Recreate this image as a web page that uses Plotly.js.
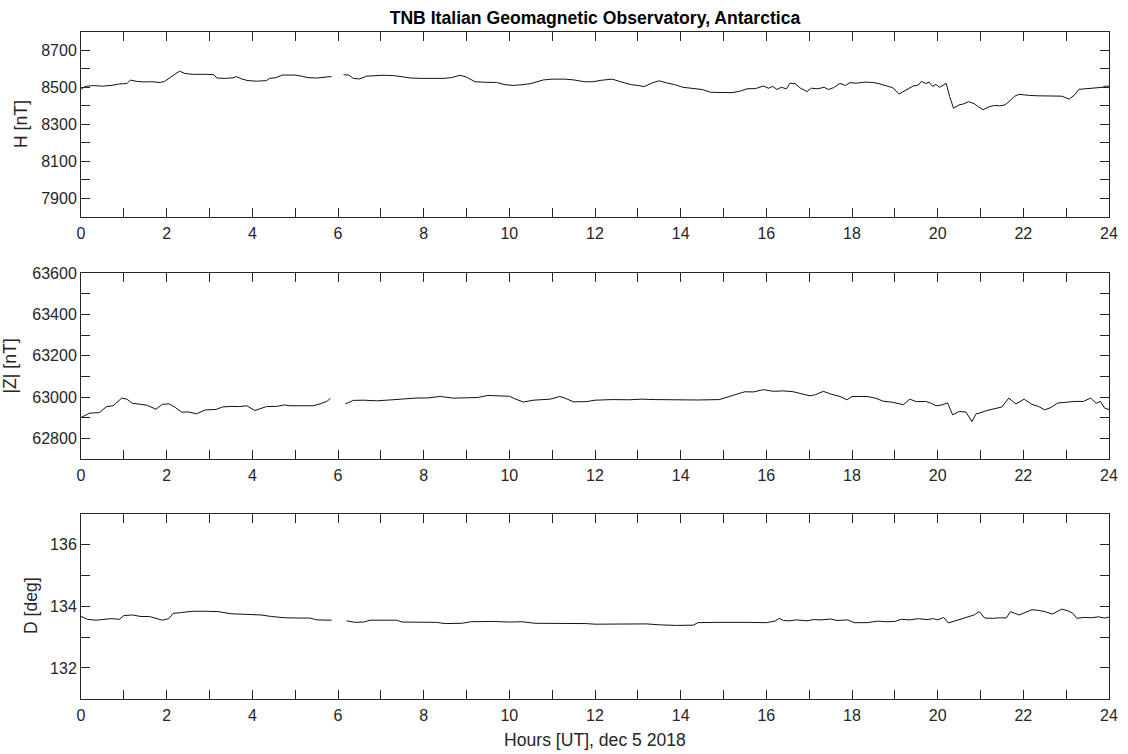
<!DOCTYPE html>
<html>
<head>
<meta charset="utf-8">
<script src="https://cdn.plot.ly/plotly-3.0.1.min.js"></script>
<style>html,body{margin:0;padding:0;background:#fff;}#chart{width:1128px;height:754px;}</style>
</head>
<body>
<div id="chart"></div>
<script>
// ---- Data ----
const titleText = "TNB Italian Geomagnetic Observatory, Antarctica";
const xLabel = "Hours [UT], dec 5 2018";
const hLabel = "H [nT]";
const zLabel = "|Z| [nT]";
const dLabel = "D [deg]";

const hourTicks = [0,1,2,3,4,5,6,7,8,9,10,11,12,13,14,15,16,17,18,19,20,21,22,23,24];
const hourTickText = ["0","","2","","4","","6","","8","","10","","12","","14","","16","","18","","20","","22","","24"];

const hTicks = [7900,8000,8100,8200,8300,8400,8500,8600,8700];
const hTickText = ["7900","","8100","","8300","","8500","","8700"];
const zTicks = [62800,62900,63000,63100,63200,63300,63400,63500,63600];
const zTickText = ["62800","","63000","","63200","","63400","","63600"];
const dTicks = [132,133,134,135,136];
const dTickText = ["132","","134","","136"];

const H_hours = [0.00,0.10,0.30,0.50,0.70,0.90,1.07,1.15,1.30,1.45,1.65,1.85,1.95,2.05,2.20,2.30,2.42,2.60,2.90,3.10,3.17,3.35,3.55,3.63,3.75,3.90,4.10,4.33,4.40,4.55,4.70,4.85,5.00,5.15,5.30,5.50,5.65,5.80,5.85,5.86,6.13,6.25,6.36,6.50,6.67,6.85,7.05,7.30,7.50,7.70,7.95,8.20,8.45,8.65,8.85,9.00,9.20,9.45,9.70,9.90,10.10,10.30,10.50,10.80,11.00,11.30,11.50,11.75,11.95,12.15,12.40,12.60,12.85,13.00,13.15,13.35,13.50,13.65,13.85,14.05,14.30,14.50,14.70,14.95,15.20,15.40,15.55,15.75,15.93,16.05,16.15,16.25,16.35,16.47,16.55,16.67,16.80,16.95,17.05,17.20,17.35,17.45,17.57,17.72,17.85,17.95,18.10,18.30,18.50,18.65,18.80,18.95,19.10,19.25,19.43,19.55,19.62,19.72,19.80,19.88,19.96,20.04,20.12,20.20,20.28,20.37,20.50,20.60,20.72,20.85,20.95,21.06,21.20,21.33,21.45,21.57,21.70,21.80,21.90,22.00,22.15,22.35,22.60,22.90,23.07,23.20,23.30,23.45,23.60,23.75,23.85,23.94,24.00];
const H_nT = [8489,8505,8509,8506,8510,8518,8520,8539,8532,8529,8530,8526,8532,8548,8575,8587,8575,8570,8570,8568,8550,8548,8551,8558,8545,8536,8533,8536,8548,8552,8566,8565,8566,8560,8552,8550,8553,8555,8558,null,8568,8566,8548,8545,8560,8562,8565,8563,8558,8550,8548,8546,8548,8552,8565,8555,8530,8527,8526,8514,8510,8514,8520,8540,8544,8544,8540,8530,8530,8538,8544,8530,8514,8510,8504,8525,8535,8525,8515,8500,8495,8488,8473,8470,8471,8480,8492,8493,8507,8495,8505,8488,8500,8492,8522,8520,8495,8477,8495,8492,8500,8488,8498,8521,8510,8525,8522,8528,8526,8518,8510,8498,8464,8485,8507,8512,8532,8520,8528,8505,8515,8500,8512,8521,8450,8387,8405,8410,8422,8412,8395,8379,8395,8402,8400,8405,8430,8452,8462,8458,8456,8454,8454,8452,8436,8460,8489,8492,8495,8496,8500,8507,8505];

const Z_hours = [0.00,0.10,0.20,0.43,0.60,0.75,0.95,1.07,1.20,1.40,1.55,1.75,1.90,2.06,2.20,2.35,2.50,2.70,2.90,3.15,3.30,3.50,3.70,3.87,4.06,4.20,4.33,4.57,4.75,4.88,5.10,5.42,5.58,5.75,5.82,5.83,6.17,6.36,6.60,6.90,7.20,7.46,7.80,8.10,8.38,8.70,9.00,9.26,9.50,9.80,10.00,10.15,10.33,10.56,10.80,10.95,11.18,11.30,11.50,11.80,12.00,12.40,12.80,13.10,13.40,13.70,14.00,14.40,14.90,15.15,15.30,15.50,15.70,15.93,16.16,16.40,16.63,16.80,17.02,17.15,17.33,17.50,17.72,17.88,18.00,18.35,18.55,18.73,18.95,19.20,19.35,19.50,19.72,19.85,19.96,20.10,20.23,20.35,20.50,20.66,20.80,20.90,20.97,21.15,21.35,21.50,21.66,21.83,22.02,22.20,22.35,22.50,22.65,22.80,23.00,23.20,23.40,23.57,23.70,23.80,23.90,24.00];
const Z_nT = [62901,62910,62922,62925,62954,62958,62995,62990,62970,62965,62960,62941,62965,62967,62950,62927,62928,62919,62938,62940,62952,62955,62954,62958,62935,62945,62954,62955,62962,62958,62957,62958,62967,62980,62995,null,62967,62984,62985,62982,62986,62990,62995,62996,63003,62995,62996,62998,63008,63005,63004,62990,62976,62985,62987,62990,63003,62995,62977,62978,62985,62988,62987,62990,62988,62987,62985,62986,62988,63003,63015,63026,63025,63036,63028,63030,63026,63018,63006,63012,63028,63015,63003,62987,63003,63003,62995,62980,62975,62963,62990,62978,62979,62970,62958,62962,62972,62914,62930,62928,62881,62920,62922,62935,62946,62952,62995,62967,62990,62965,62955,62938,62950,62971,62975,62979,62979,62995,62970,62979,62946,62940];

const D_hours = [0.00,0.15,0.35,0.55,0.70,0.90,1.00,1.20,1.40,1.60,1.75,1.90,2.05,2.15,2.35,2.60,2.90,3.20,3.50,3.80,4.20,4.45,4.75,5.10,5.35,5.50,5.85,5.86,6.20,6.40,6.60,6.75,7.10,7.36,7.50,8.00,8.30,8.50,8.90,9.10,9.60,10.00,10.30,10.60,11.00,11.40,11.80,12.00,12.40,12.80,13.20,13.50,13.90,14.30,14.40,14.80,15.20,15.60,16.00,16.20,16.30,16.40,16.55,16.70,16.95,17.10,17.30,17.50,17.65,17.90,18.05,18.20,18.35,18.60,18.80,19.00,19.15,19.35,19.55,19.75,19.90,20.00,20.14,20.25,20.40,20.50,20.70,20.85,20.97,21.10,21.30,21.45,21.60,21.70,21.90,22.05,22.20,22.35,22.50,22.68,22.90,23.05,23.15,23.25,23.40,23.60,23.75,23.90,24.00];
const D_deg = [133.67,133.58,133.55,133.57,133.60,133.58,133.70,133.72,133.67,133.67,133.62,133.55,133.60,133.77,133.80,133.84,133.84,133.83,133.76,133.75,133.72,133.67,133.63,133.62,133.62,133.56,133.55,null,133.53,133.48,133.49,133.55,133.55,133.55,133.49,133.48,133.48,133.44,133.45,133.50,133.51,133.49,133.50,133.45,133.45,133.45,133.44,133.42,133.43,133.42,133.43,133.40,133.38,133.39,133.47,133.48,133.49,133.48,133.47,133.52,133.61,133.54,133.53,133.56,133.53,133.57,133.56,133.59,133.54,133.56,133.47,133.46,133.47,133.52,133.50,133.51,133.58,133.56,133.60,133.57,133.60,133.56,133.64,133.46,133.52,133.57,133.64,133.72,133.83,133.62,133.61,133.63,133.62,133.83,133.72,133.80,133.89,133.87,133.83,133.75,133.91,133.85,133.78,133.61,133.64,133.63,133.66,133.62,133.65];

// ---- Styling ----
const FONT = "Liberation Sans, Arial, Helvetica, sans-serif";
const AX = "#262626";
const W = 1128, Hh = 754;
const L = 81, R = 1109;
const TICKSIZE = 16, LABELSIZE = 17.6;
function py(pix){ return 1 - pix / Hh; }

function xAxis(anchor){
  return {
    anchor: anchor, domain: [0,1], range: [0,24],
    tickmode: "array", tickvals: hourTicks, ticktext: hourTickText,
    ticks: "inside", ticklen: 9, tickwidth: 1, tickcolor: AX,
    showline: true, linecolor: AX, linewidth: 1, mirror: "ticks",
    showgrid: false, zeroline: false, ticklabelstandoff: 2,
    tickfont: {family: FONT, size: TICKSIZE, color: AX}
  };
}
function yAxis(anchor, dom, rng, tv, tt){
  return {
    anchor: anchor, domain: dom, range: rng,
    tickmode: "array", tickvals: tv, ticktext: tt,
    ticks: "inside", ticklen: 9, tickwidth: 1, tickcolor: AX,
    showline: true, linecolor: AX, linewidth: 1, mirror: "ticks",
    showgrid: false, zeroline: false,
    tickfont: {family: FONT, size: TICKSIZE, color: AX}
  };
}

const lineStyle = {color: "#111111", width: 1};
const traces = [
  {x: H_hours, y: H_nT, xaxis: "x", yaxis: "y", type: "scatter", mode: "lines", line: lineStyle, connectgaps: false, name: "H"},
  {x: Z_hours, y: Z_nT, xaxis: "x2", yaxis: "y2", type: "scatter", mode: "lines", line: lineStyle, connectgaps: false, name: "Z"},
  {x: D_hours, y: D_deg, xaxis: "x3", yaxis: "y3", type: "scatter", mode: "lines", line: lineStyle, connectgaps: false, name: "D"}
];

const layout = {
  width: W, height: Hh,
  margin: {l: L, r: W - R, t: 0, b: 0, pad: 0},
  paper_bgcolor: "#ffffff", plot_bgcolor: "#ffffff",
  showlegend: false,
  font: {family: FONT, size: TICKSIZE, color: AX},
  title: {text: "<b>" + titleText + "</b>", font: {family: FONT, size: 17.6, color: "#000000"},
          x: 0.5, xref: "paper", y: py(18), yref: "container", yanchor: "middle", xanchor: "center"},
  xaxis: xAxis("y"),
  yaxis: yAxis("x", [py(217), py(31.7)], [7800, 8800], hTicks, hTickText),
  xaxis2: xAxis("y2"),
  yaxis2: yAxis("x2", [py(459), py(273.3)], [62700, 63600], zTicks, zTickText),
  xaxis3: xAxis("y3"),
  yaxis3: yAxis("x3", [py(698.7), py(514)], [131, 137], dTicks, dTickText),
  annotations: [
    {text: hLabel, xref: "paper", yref: "paper", x: (21 - L) / (R - L), y: py(124), textangle: -90,
     showarrow: false, xanchor: "center", yanchor: "middle", font: {family: FONT, size: LABELSIZE, color: AX}},
    {text: zLabel, xref: "paper", yref: "paper", x: (9.5 - L) / (R - L), y: py(366), textangle: -90,
     showarrow: false, xanchor: "center", yanchor: "middle", font: {family: FONT, size: LABELSIZE, color: AX}},
    {text: dLabel, xref: "paper", yref: "paper", x: (31 - L) / (R - L), y: py(606), textangle: -90,
     showarrow: false, xanchor: "center", yanchor: "middle", font: {family: FONT, size: LABELSIZE, color: AX}},
    {text: xLabel, xref: "paper", yref: "paper", x: 0.5, y: py(740),
     showarrow: false, xanchor: "center", yanchor: "middle", font: {family: FONT, size: LABELSIZE, color: AX}}
  ]
};

Plotly.newPlot("chart", traces, layout, {displayModeBar: false, staticPlot: true});
</script>
</body>
</html>
